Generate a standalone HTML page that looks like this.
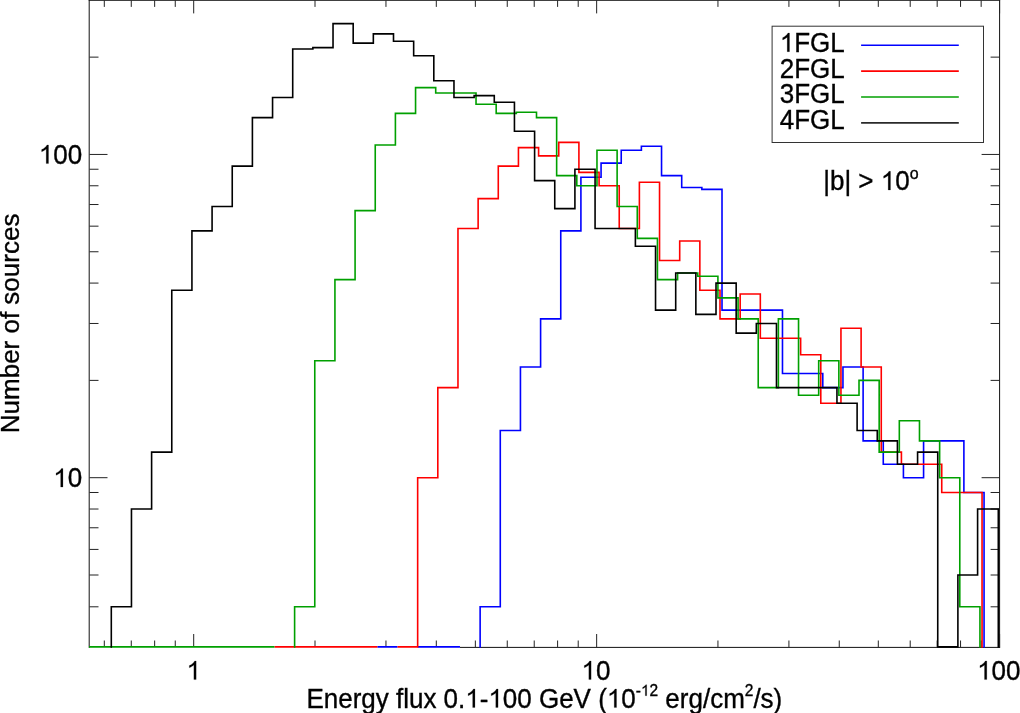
<!DOCTYPE html><html><head><meta charset="utf-8"><style>html,body{margin:0;padding:0;background:#fff;width:1020px;height:713px;overflow:hidden}</style></head><body><svg width="1020" height="713" viewBox="0 0 1020 713" style="position:absolute;left:0;top:0;font-family:'Liberation Sans',sans-serif" ><rect x="0" y="0" width="1020" height="713" fill="#fff"/><path d="M89.20 0.00 V647.90 M999.60 0.00 V647.90 M88.70 0.30 H1000.10 M459.97 647.40 H1000.10" fill="none" stroke="#111" stroke-width="1"/><path d="M193.70 647.00 V634.00 M193.70 0.40 V13.40 M596.65 647.00 V634.00 M596.65 0.40 V13.40 M999.60 647.00 V634.00 M999.60 0.40 V13.40 M104.31 647.00 V640.50 M104.31 0.40 V6.90 M131.28 647.00 V640.50 M131.28 0.40 V6.90 M154.65 647.00 V640.50 M154.65 0.40 V6.90 M175.26 647.00 V640.50 M175.26 0.40 V6.90 M315.00 647.00 V640.50 M315.00 0.40 V6.90 M385.96 647.00 V640.50 M385.96 0.40 V6.90 M436.30 647.00 V640.50 M436.30 0.40 V6.90 M475.35 647.00 V640.50 M475.35 0.40 V6.90 M507.26 647.00 V640.50 M507.26 0.40 V6.90 M534.23 647.00 V640.50 M534.23 0.40 V6.90 M557.60 647.00 V640.50 M557.60 0.40 V6.90 M578.21 647.00 V640.50 M578.21 0.40 V6.90 M717.95 647.00 V640.50 M717.95 0.40 V6.90 M788.91 647.00 V640.50 M788.91 0.40 V6.90 M839.25 647.00 V640.50 M839.25 0.40 V6.90 M878.30 647.00 V640.50 M878.30 0.40 V6.90 M910.21 647.00 V640.50 M910.21 0.40 V6.90 M937.18 647.00 V640.50 M937.18 0.40 V6.90 M960.55 647.00 V640.50 M960.55 0.40 V6.90 M981.16 647.00 V640.50 M981.16 0.40 V6.90 M89.50 477.70 H107.50 M999.60 477.70 H981.60 M89.50 154.45 H107.50 M999.60 154.45 H981.60 M89.50 606.80 H98.50 M999.60 606.80 H990.60 M89.50 575.01 H98.50 M999.60 575.01 H990.60 M89.50 549.41 H98.50 M999.60 549.41 H990.60 M89.50 527.77 H98.50 M999.60 527.77 H990.60 M89.50 509.03 H98.50 M999.60 509.03 H990.60 M89.50 492.49 H98.50 M999.60 492.49 H990.60 M89.50 380.39 H98.50 M999.60 380.39 H990.60 M89.50 323.47 H98.50 M999.60 323.47 H990.60 M89.50 283.08 H98.50 M999.60 283.08 H990.60 M89.50 251.76 H98.50 M999.60 251.76 H990.60 M89.50 226.16 H98.50 M999.60 226.16 H990.60 M89.50 204.52 H98.50 M999.60 204.52 H990.60 M89.50 185.78 H98.50 M999.60 185.78 H990.60 M89.50 169.24 H98.50 M999.60 169.24 H990.60 M89.50 57.14 H98.50 M999.60 57.14 H990.60" fill="none" stroke="#222" stroke-width="1"/><g fill="none" stroke-width="1.6" stroke-linejoin="miter" stroke-linecap="butt"><path d="M377.34 646.90 H397.50 M417.66 646.90 H459.97 M480.13 647.70 L480.13 606.80 L500.28 606.80 L500.28 430.46 L520.44 430.46 L520.44 367.01 L540.60 367.01 L540.60 318.87 L560.75 318.87 L560.75 230.92 L580.91 230.92 L580.91 177.27 L601.07 177.27 L601.07 163.14 L621.23 163.14 L621.23 150.30 L641.38 150.30 L641.38 146.27 L661.54 146.27 L661.54 175.62 L681.70 175.62 L681.70 187.54 L701.85 187.54 L701.85 189.33 L722.01 189.33 L722.01 310.09 L742.17 310.09 L742.17 310.09 L762.32 310.09 L762.32 310.09 L782.48 310.09 L782.48 373.54 L802.64 373.54 L802.64 373.54 L822.79 373.54 L822.79 387.59 L842.95 387.59 L842.95 367.01 L863.11 367.01 L863.11 440.87 L883.27 440.87 L883.27 464.32 L903.42 464.32 L903.42 477.70 L923.58 477.70 L923.58 440.87 L943.74 440.87 L943.74 440.87 L963.89 440.87 L963.89 492.49 L984.05 492.49 L984.05 647.70" stroke="#0000ff"/><path d="M274.46 646.90 H377.34 M397.50 646.90 L417.66 646.90 L417.66 477.70 L437.81 477.70 L437.81 387.59 L457.97 387.59 L457.97 228.52 L478.13 228.52 L478.13 198.63 L498.28 198.63 L498.28 166.16 L518.44 166.16 L518.44 147.60 L538.60 147.60 L538.60 155.86 L558.75 155.86 L558.75 142.35 L578.91 142.35 L578.91 172.40 L599.07 172.40 L599.07 185.78 L619.23 185.78 L619.23 228.52 L639.38 228.52 L639.38 182.31 L659.54 182.31 L659.54 260.44 L679.70 260.44 L679.70 240.95 L699.85 240.95 L699.85 290.28 L720.01 290.28 L720.01 318.87 L740.17 318.87 L740.17 294.03 L760.32 294.03 L760.32 338.26 L780.48 338.26 L780.48 338.26 L800.64 338.26 L800.64 354.80 L820.79 354.80 L820.79 403.21 L840.95 403.21 L840.95 328.23 L861.11 328.23 L861.11 367.01 L881.27 367.01 L881.27 452.10 L901.42 452.10 L901.42 464.32 L921.58 464.32 L921.58 464.32 L941.74 464.32 L941.74 492.49 L961.89 492.49 L961.89 492.49 L982.05 492.49 L982.05 647.70" stroke="#ff0000"/><path d="M89.00 646.90 H274.46 M294.61 647.70 L294.61 606.80 L314.77 606.80 L314.77 360.77 L334.93 360.77 L334.93 279.62 L355.08 279.62 L355.08 210.67 L375.24 210.67 L375.24 144.95 L395.40 144.95 L395.40 113.36 L415.56 113.36 L415.56 87.59 L435.71 87.59 L435.71 92.93 L455.87 92.93 L455.87 92.93 L476.03 92.93 L476.03 104.24 L496.18 104.24 L496.18 113.36 L516.34 113.36 L516.34 112.32 L536.50 112.32 L536.50 117.62 L556.65 117.62 L556.65 175.62 L576.81 175.62 L576.81 185.78 L596.97 185.78 L596.97 150.30 L617.12 150.30 L617.12 206.54 L637.28 206.54 L637.28 238.38 L657.44 238.38 L657.44 279.62 L677.60 279.62 L677.60 272.93 L697.75 272.93 L697.75 276.23 L717.91 276.23 L717.91 297.88 L738.07 297.88 L738.07 318.87 L758.22 318.87 L758.22 387.59 L778.38 387.59 L778.38 318.87 L798.54 318.87 L798.54 395.18 L818.69 395.18 L818.69 360.77 L838.85 360.77 L838.85 395.18 L859.01 395.18 L859.01 380.39 L879.17 380.39 L879.17 452.10 L899.32 452.10 L899.32 420.78 L919.48 420.78 L919.48 440.87 L939.64 440.87 L939.64 477.70 L959.79 477.70 L959.79 606.80 L979.95 606.80 L979.95 647.70" stroke="#00a000"/><path d="M111.30 647.70 L111.30 606.80 L131.46 606.80 L131.46 509.03 L151.61 509.03 L151.61 452.10 L171.77 452.10 L171.77 290.28 L191.93 290.28 L191.93 230.92 L212.08 230.92 L212.08 206.54 L232.24 206.54 L232.24 166.16 L252.40 166.16 L252.40 117.62 L272.56 117.62 L272.56 97.53 L292.71 97.53 L292.71 48.96 L312.87 48.96 L312.87 47.64 L333.03 47.64 L333.03 23.59 L353.18 23.59 L353.18 43.13 L373.34 43.13 L373.34 33.91 L393.50 33.91 L393.50 41.23 L413.66 41.23 L413.66 55.75 L433.81 55.75 L433.81 80.79 L453.97 80.79 L453.97 97.53 L474.13 97.53 L474.13 95.67 L494.28 95.67 L494.28 102.29 L514.44 102.29 L514.44 131.21 L534.60 131.21 L534.60 180.61 L554.75 180.61 L554.75 208.59 L574.91 208.59 L574.91 169.24 L595.07 169.24 L595.07 228.52 L615.23 228.52 L615.23 228.52 L635.38 228.52 L635.38 246.25 L655.54 246.25 L655.54 310.09 L675.70 310.09 L675.70 272.93 L695.85 272.93 L695.85 314.41 L716.01 314.41 L716.01 283.08 L736.17 283.08 L736.17 333.16 L756.32 333.16 L756.32 323.47 L776.48 323.47 L776.48 387.59 L796.64 387.59 L796.64 387.59 L816.79 387.59 L816.79 387.59 L836.95 387.59 L836.95 403.21 L857.11 403.21 L857.11 430.46 L877.27 430.46 L877.27 440.87 L897.42 440.87 L897.42 464.32 L917.58 464.32 L917.58 452.10 L937.74 452.10 L937.74 646.90 L957.89 646.90 L957.89 575.01 L977.60 575.01 L977.60 509.03 L998.30 509.03 L998.30 647.70" stroke="#000000"/></g><rect x="772.1" y="26.2" width="211.4" height="116.3" fill="#fff" stroke="#333" stroke-width="1"/><g style="opacity:0.999"><text transform="translate(779.80,51.70) scale(1,1.030)" font-size="26" text-anchor="start" fill="#000" stroke="#000" stroke-width="0.35"><tspan class="one" visibility="hidden">1</tspan>FGL</text><path d="M861.1 45.3 H958.8" stroke="#0000ff" stroke-width="1.6" fill="none"/><text transform="translate(779.80,77.50) scale(1,1.030)" font-size="26" text-anchor="start" fill="#000" stroke="#000" stroke-width="0.35">2FGL</text><path d="M861.1 71.1 H958.8" stroke="#ff0000" stroke-width="1.6" fill="none"/><text transform="translate(779.80,103.20) scale(1,1.030)" font-size="26" text-anchor="start" fill="#000" stroke="#000" stroke-width="0.35">3FGL</text><path d="M861.1 97.0 H958.8" stroke="#00a000" stroke-width="1.6" fill="none"/><text transform="translate(779.80,129.00) scale(1,1.030)" font-size="26" text-anchor="start" fill="#000" stroke="#000" stroke-width="0.35">4FGL</text><path d="M861.1 122.9 H958.8" stroke="#2a2a2a" stroke-width="1.6" fill="none"/><text transform="translate(823.20,190.00) scale(1,1.045)" font-size="26" text-anchor="start" fill="#000" stroke="#000" stroke-width="0.35">|b| &gt; <tspan class="one" visibility="hidden">1</tspan>0<tspan font-size="16" dy="-10.3">o</tspan></text><text transform="translate(193.70,679.60) scale(1,1.045)" font-size="26" text-anchor="middle" fill="#000" stroke="#000" stroke-width="0.35"><tspan class="one" visibility="hidden">1</tspan></text><text transform="translate(595.90,679.60) scale(1,1.045)" font-size="26" text-anchor="middle" fill="#000" stroke="#000" stroke-width="0.35"><tspan class="one" visibility="hidden">1</tspan>0</text><text transform="translate(998.80,679.60) scale(1,1.045)" font-size="26" text-anchor="middle" fill="#000" stroke="#000" stroke-width="0.35"><tspan class="one" visibility="hidden">1</tspan>00</text><text transform="translate(82.20,163.60) scale(1,1.045)" font-size="26" text-anchor="end" fill="#000" stroke="#000" stroke-width="0.35"><tspan class="one" visibility="hidden">1</tspan>00</text><text transform="translate(82.20,487.10) scale(1,1.045)" font-size="26" text-anchor="end" fill="#000" stroke="#000" stroke-width="0.35"><tspan class="one" visibility="hidden">1</tspan>0</text><text transform="translate(306.40,707.60) scale(1,1.030)" font-size="26" text-anchor="start" fill="#000" stroke="#000" stroke-width="0.35">Energy flux 0.<tspan class="one" visibility="hidden">1</tspan>-<tspan class="one" visibility="hidden">1</tspan>00 GeV (<tspan class="one" visibility="hidden">1</tspan>0<tspan font-size="15.5" dy="-11.5">-<tspan class="one" visibility="hidden">1</tspan>2</tspan><tspan dy="11.5"> erg/cm</tspan><tspan font-size="15.5" dy="-11.5">2</tspan><tspan dy="11.5">/s)</tspan></text><text transform="translate(18.90,433.20) rotate(-90) scale(1,1.015)" font-size="26" text-anchor="start" fill="#000" stroke="#000" stroke-width="0.35">Number of sources</text><path transform="translate(779.80,51.70) scale(0.01270,-0.01270)" d="M763 0H583V1147Q518 1085 412.5 1023T223 930V1104Q373 1174.5 485.5 1275T644 1470H763Z" fill="#000" stroke="#000" stroke-width="15.8"/><path transform="translate(880.78,190.00) scale(0.01270,-0.01270)" d="M763 0H583V1147Q518 1085 412.5 1023T223 930V1104Q373 1174.5 485.5 1275T644 1470H763Z" fill="#000" stroke="#000" stroke-width="15.8"/><path transform="translate(186.47,679.60) scale(0.01270,-0.01270)" d="M763 0H583V1147Q518 1085 412.5 1023T223 930V1104Q373 1174.5 485.5 1275T644 1470H763Z" fill="#000" stroke="#000" stroke-width="15.8"/><path transform="translate(581.43,679.60) scale(0.01270,-0.01270)" d="M763 0H583V1147Q518 1085 412.5 1023T223 930V1104Q373 1174.5 485.5 1275T644 1470H763Z" fill="#000" stroke="#000" stroke-width="15.8"/><path transform="translate(977.11,679.60) scale(0.01270,-0.01270)" d="M763 0H583V1147Q518 1085 412.5 1023T223 930V1104Q373 1174.5 485.5 1275T644 1470H763Z" fill="#000" stroke="#000" stroke-width="15.8"/><path transform="translate(38.81,163.60) scale(0.01270,-0.01270)" d="M763 0H583V1147Q518 1085 412.5 1023T223 930V1104Q373 1174.5 485.5 1275T644 1470H763Z" fill="#000" stroke="#000" stroke-width="15.8"/><path transform="translate(53.26,487.10) scale(0.01270,-0.01270)" d="M763 0H583V1147Q518 1085 412.5 1023T223 930V1104Q373 1174.5 485.5 1275T644 1470H763Z" fill="#000" stroke="#000" stroke-width="15.8"/><path transform="translate(465.27,707.60) scale(0.01270,-0.01270)" d="M763 0H583V1147Q518 1085 412.5 1023T223 930V1104Q373 1174.5 485.5 1275T644 1470H763Z" fill="#000" stroke="#000" stroke-width="15.8"/><path transform="translate(488.38,707.60) scale(0.01270,-0.01270)" d="M763 0H583V1147Q518 1085 412.5 1023T223 930V1104Q373 1174.5 485.5 1275T644 1470H763Z" fill="#000" stroke="#000" stroke-width="15.8"/><path transform="translate(606.83,707.60) scale(0.01270,-0.01270)" d="M763 0H583V1147Q518 1085 412.5 1023T223 930V1104Q373 1174.5 485.5 1275T644 1470H763Z" fill="#000" stroke="#000" stroke-width="15.8"/><path transform="translate(640.91,695.76) scale(0.00757,-0.00757)" d="M763 0H583V1147Q518 1085 412.5 1023T223 930V1104Q373 1174.5 485.5 1275T644 1470H763Z" fill="#000" stroke="#000" stroke-width="26.4"/></g></svg></body></html>
